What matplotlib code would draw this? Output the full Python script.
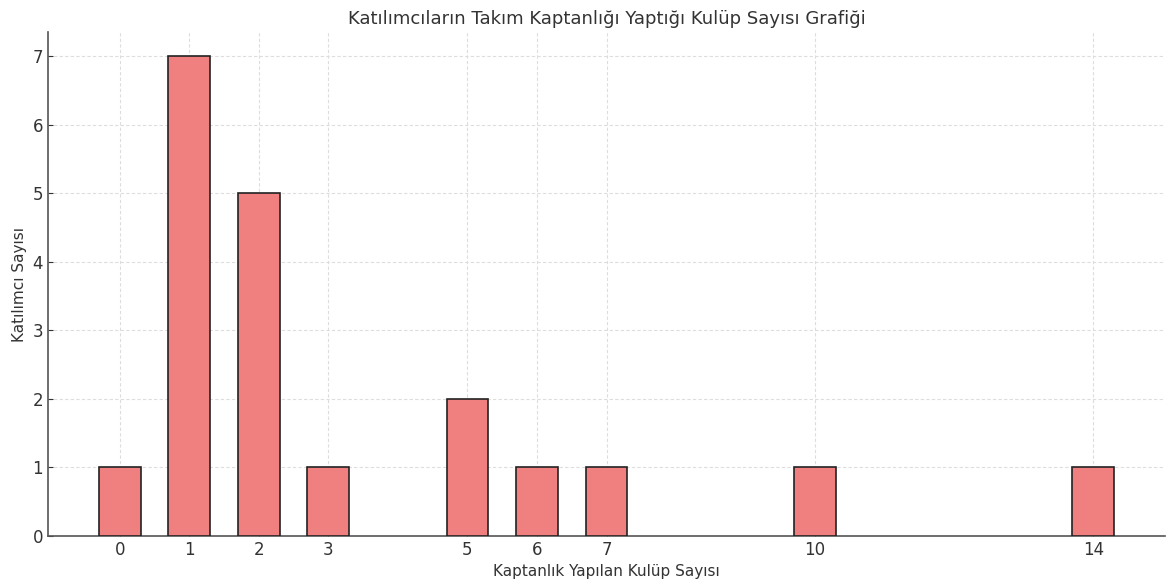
import matplotlib.pyplot as plt

# Kaptanlik yapilan kulup sayisi ve katilimci sayisi
kulup_sayisi = [0, 1, 2, 3, 5, 6, 7, 10, 14]
katilimci = [1, 7, 5, 1, 2, 1, 1, 1, 1]

plt.rcParams['text.color'] = '#333333'
plt.rcParams['axes.labelcolor'] = '#333333'
plt.rcParams['xtick.color'] = '#333333'
plt.rcParams['ytick.color'] = '#333333'

fig, ax = plt.subplots(figsize=(11.66, 5.8), dpi=100)
fig.subplots_adjust(left=48 / 1166, right=1165 / 1166, top=1 - 32 / 580, bottom=1 - 536 / 580)

ax.bar(kulup_sayisi, katilimci, width=0.6, color='lightcoral', edgecolor='#222222', linewidth=1.2, zorder=3)

ax.set_title('Katılımcıların Takım Kaptanlığı Yaptığı Kulüp Sayısı Grafiği', fontsize=13)
ax.set_xlabel('Kaptanlık Yapılan Kulüp Sayısı', fontsize=11)
ax.set_ylabel('Katılımcı Sayısı', fontsize=11)
ax.set_xticks(kulup_sayisi)
ax.tick_params(direction='in', labelsize=12)
ax.grid(True, linestyle=(0, (3, 2)), color='#dddddd', linewidth=0.8, zorder=0)
ax.spines['top'].set_visible(False)
ax.spines['right'].set_visible(False)
ax.spines['left'].set_color('#555555')
ax.spines['bottom'].set_color('#555555')
ax.spines['left'].set_linewidth(1.2)
ax.spines['bottom'].set_linewidth(1.2)

plt.savefig('out.png', dpi=100)
